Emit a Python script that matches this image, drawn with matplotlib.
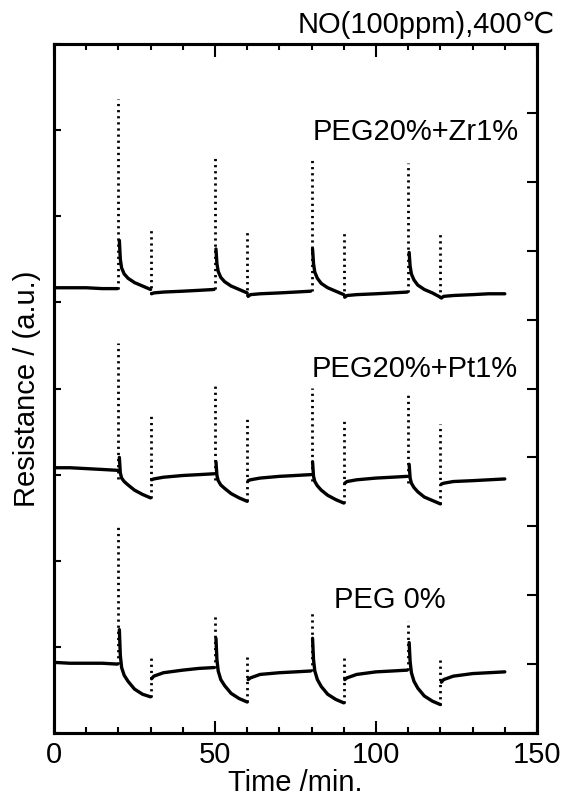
import numpy as np
import matplotlib.pyplot as plt
from matplotlib.ticker import MultipleLocator

nan = np.nan

# gas switching times (min): big spikes at NO on, small spikes at NO off
spike_t = [20, 30, 50, 60, 80, 90, 110, 120]

# PEG20%+Zr1%  (segments separated by nan)
zr_t = [0, 5, 10, 15, 19.7, nan,
        20.3, 20.6, 21.0, 21.8, 23, 25, 27.5, 30, nan,
        30.3, 31, 34, 40, 45, 49.7, nan,
        50.3, 50.6, 51.0, 51.8, 53, 55, 57.5, 60, nan,
        60.3, 61, 64, 70, 75, 79.7, nan,
        80.3, 80.6, 81.0, 81.8, 83, 85, 87.5, 90, nan,
        90.3, 91, 94, 100, 105, 109.7, nan,
        110.3, 110.6, 111.0, 111.8, 113, 115, 117.5, 120, nan,
        120.3, 121, 124, 130, 135, 140]
zr_y = [5.17, 5.17, 5.17, 5.16, 5.16, nan,
        5.72, 5.50, 5.40, 5.33, 5.28, 5.23, 5.19, 5.15, nan,
        5.10, 5.11, 5.12, 5.13, 5.14, 5.15, nan,
        5.62, 5.45, 5.36, 5.29, 5.24, 5.19, 5.15, 5.11, nan,
        5.07, 5.09, 5.10, 5.11, 5.12, 5.13, nan,
        5.62, 5.45, 5.35, 5.28, 5.22, 5.17, 5.13, 5.09, nan,
        5.06, 5.08, 5.09, 5.10, 5.11, 5.12, nan,
        5.58, 5.42, 5.33, 5.26, 5.20, 5.15, 5.11, 5.06, nan,
        5.05, 5.07, 5.08, 5.09, 5.10, 5.10]
zr_peak = [7.36, 5.84, 6.69, 5.85, 6.69, 5.83, 6.62, 5.80]
zr_low = [5.16, 5.10, 5.15, 5.07, 5.13, 5.06, 5.12, 5.05]

# PEG20%+Pt1%
pt_t = zr_t
pt_y = [3.08, 3.08, 3.07, 3.06, 3.05, nan,
        3.20, 3.02, 2.96, 2.92, 2.88, 2.82, 2.77, 2.73, nan,
        2.94, 2.95, 2.97, 2.99, 3.00, 3.01, nan,
        3.15, 2.99, 2.93, 2.88, 2.84, 2.78, 2.73, 2.69, nan,
        2.93, 2.94, 2.96, 2.98, 2.99, 3.00, nan,
        3.15, 2.98, 2.92, 2.87, 2.82, 2.76, 2.71, 2.67, nan,
        2.90, 2.92, 2.94, 2.96, 2.97, 2.98, nan,
        3.12, 2.96, 2.90, 2.85, 2.80, 2.74, 2.70, 2.66, nan,
        2.89, 2.90, 2.92, 2.93, 2.94, 2.95]
pt_peak = [4.53, 3.70, 4.03, 3.67, 4.01, 3.65, 3.96, 3.59]
pt_low = [2.95, 2.73, 2.94, 2.69, 2.93, 2.67, 2.90, 2.66]

# PEG 0%
peg_t = zr_t
peg_y = [0.82, 0.81, 0.81, 0.81, 0.80, nan,
         1.20, 0.90, 0.76, 0.67, 0.60, 0.51, 0.45, 0.42, nan,
         0.63, 0.66, 0.70, 0.73, 0.75, 0.76, nan,
         1.10, 0.85, 0.72, 0.62, 0.55, 0.46, 0.40, 0.36, nan,
         0.62, 0.64, 0.68, 0.70, 0.71, 0.72, nan,
         1.10, 0.85, 0.72, 0.62, 0.54, 0.45, 0.39, 0.35, nan,
         0.62, 0.64, 0.68, 0.71, 0.72, 0.73, nan,
         1.05, 0.83, 0.70, 0.60, 0.52, 0.43, 0.37, 0.33, nan,
         0.59, 0.62, 0.66, 0.69, 0.70, 0.71]
peg_peak = [2.42, 0.88, 1.37, 0.91, 1.43, 0.89, 1.30, 0.86]
peg_low = [0.80, 0.42, 0.76, 0.36, 0.72, 0.35, 0.73, 0.33]

plt.rcParams['font.family'] = ['Liberation Sans', 'DejaVu Sans']

fig = plt.figure(figsize=(5.63, 7.99), dpi=100)
ax = fig.add_axes([0.0959, 0.0826, 0.8579, 0.8623])

for t, y, peak, low in [(zr_t, zr_y, zr_peak, zr_low),
                        (pt_t, pt_y, pt_peak, pt_low),
                        (peg_t, peg_y, peg_peak, peg_low)]:
    ax.plot(t, y, color='black', linewidth=2.4, solid_capstyle='round')
    ax.vlines(spike_t, low, peak, colors='black', linewidth=2.0,
              linestyles=(0, (0.8, 1.4)))

ax.text(112.4, 6.98, 'PEG20%+Zr1%', fontsize=21, ha='center', va='center')
ax.text(112.0, 4.23, 'PEG20%+Pt1%', fontsize=21, ha='center', va='center')
ax.text(104.3, 1.54, 'PEG 0%', fontsize=21, ha='center', va='center')
fig.text(0.986, 0.959, 'NO(100ppm),400℃', fontsize=21, ha='right', va='baseline')

ax.set_xlim(0, 150)
ax.set_ylim(0, 8)
ax.xaxis.set_major_locator(MultipleLocator(50))
ax.xaxis.set_minor_locator(MultipleLocator(10))
ax.yaxis.set_major_locator(MultipleLocator(1))
ax.set_yticklabels([])
ax.tick_params(axis='x', which='both', direction='in', top=True, labelsize=21, pad=6)
ax.tick_params(axis='x', which='major', length=9, width=1.5)
ax.tick_params(axis='x', which='minor', length=4, width=1.5)
ax.tick_params(axis='y', which='major', direction='in', length=5, width=1.5)
for s in ax.spines.values():
    s.set_linewidth(2.2)

ax2 = ax.twinx()
ax2.set_ylim(0, 10)
ax2.yaxis.set_major_locator(MultipleLocator(1))
ax2.set_yticklabels([])
ax2.tick_params(axis='y', direction='in', length=7, width=1.5)
for s in ax2.spines.values():
    s.set_linewidth(2.2)

ax.set_xlabel('Time /min.', fontsize=21, labelpad=0)
ax.set_ylabel('Resistance / (a.u.)', fontsize=21, labelpad=6)

fig.savefig('out.png', dpi=100)
